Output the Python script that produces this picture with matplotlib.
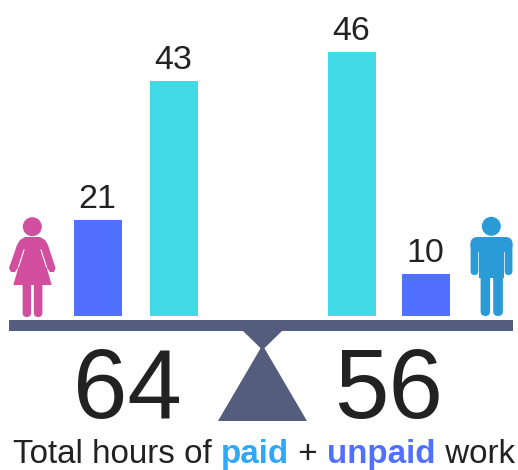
import numpy as np
import matplotlib.pyplot as plt
from matplotlib.patches import Circle, Polygon, FancyBboxPatch, Rectangle

plt.rcParams["font.family"] = "Liberation Sans"

# hours per week, women on the left, men on the right
groups = ["women unpaid", "women paid", "men paid", "men unpaid"]
hours = [21, 43, 46, 10]
totals = [64, 56]
caption = [("Total hours of ", "#222222", "normal"), ("paid", "#2FA9F7", "bold"),
           (" + ", "#222222", "normal"), ("unpaid", "#5170FF", "bold"), (" work", "#222222", "normal")]

BAR_COLORS = ["#5170FF", "#41D9E6", "#41D9E6", "#5170FF"]
BAR_X = [97.5, 173.5, 351.5, 425.5]
BEAM = "#545D7E"
INK = "#222222"

# bars in the picture are not drawn to a linear scale, so the axis follows them
knots_val = [0, 10, 21, 43, 46, 100]
knots_px = [0, 42, 96, 235, 264, 574]

def forward(v):
    return np.interp(v, knots_val, knots_px)

def inverse(p):
    return np.interp(p, knots_px, knots_val)

fig = plt.figure(figsize=(5.18, 4.70), dpi=100)

# pixel canvas for the scale and the pictograms
ax = fig.add_axes([0, 0, 1, 1])
ax.set_xlim(0, 518)
ax.set_ylim(470, 0)
ax.axis("off")

ax.add_patch(Rectangle((9, 320), 504, 11, color=BEAM, lw=0))
ax.add_patch(Polygon([(243, 331), (282, 331), (262.5, 350)], color=BEAM, lw=0))
ax.add_patch(Polygon([(262.5, 345), (307, 421), (218, 421)], color=BEAM, lw=0))

def limb(x, y, w, h, col):
    ax.add_patch(FancyBboxPatch((x + w / 2 - 0.1, y), 0.2, h - w / 2, boxstyle="round,pad=%f,rounding_size=%f" % (w / 2, w / 2),
                                fc=col, ec="none", mutation_aspect=1))

# woman
PINK = "#D24FA0"
ax.add_patch(Circle((32.3, 226.7), 9.5, color=PINK, lw=0))
ax.add_patch(Polygon([(25, 237), (40, 237), (45, 240), (48, 245), (55.5, 268), (54, 272), (50, 272), (46.5, 267),
                      (51.7, 285), (13.3, 285), (18.5, 267), (15, 272), (11, 272), (9, 268), (17, 245), (20, 240)],
                     color=PINK, lw=0))
ax.plot([24, 18.5], [250, 267], color="white", lw=0.8)
ax.plot([41, 46.5], [250, 267], color="white", lw=0.8)
limb(22.7, 283, 8.3, 34, PINK)
limb(34, 283, 8.3, 34, PINK)

# man
MAN = "#2A9BD6"
ax.add_patch(Circle((491.3, 226.3), 9.5, color=MAN, lw=0))
ax.add_patch(FancyBboxPatch((474, 240.5), 35, 8, boxstyle="round,pad=3.5,rounding_size=7", fc=MAN, ec="none"))
ax.add_patch(Rectangle((479, 246), 25, 32, color=MAN, lw=0))
limb(470.7, 244, 7.5, 31, MAN)
limb(504.8, 244, 7.5, 31, MAN)
limb(480.7, 272, 9.3, 44, MAN)
limb(493.3, 272, 9.5, 44, MAN)

for x, t in zip([127, 389], totals):
    ax.text(x, 418, str(t), fontsize=70.5, color=INK, ha="center", va="baseline")

# caption is made of coloured runs, each one placed after the last
fig.canvas.draw()
rend = fig.canvas.get_renderer()
cx = 13
for txt, col, weight in caption:
    t = ax.text(cx, 463, txt.replace(" ", "\u00a0"), fontsize=23.85, color=col, fontweight=weight, ha="left", va="baseline")
    cx = ax.transData.inverted().transform(t.get_window_extent(rend).p1)[0]

# bars
bar_ax = fig.add_axes([0, (470 - 315.5) / 470, 1, 315.5 / 470])
bar_ax.set_xlim(0, 518)
bar_ax.set_yscale("function", functions=(forward, inverse))
bar_ax.set_ylim(0, inverse(315.5))
bar_ax.axis("off")
bars = bar_ax.bar(BAR_X, hours, width=48, color=BAR_COLORS)
bar_ax.bar_label(bars, fontsize=24.5, color=INK, padding=3.5)

fig.savefig("out.png", dpi=100)
